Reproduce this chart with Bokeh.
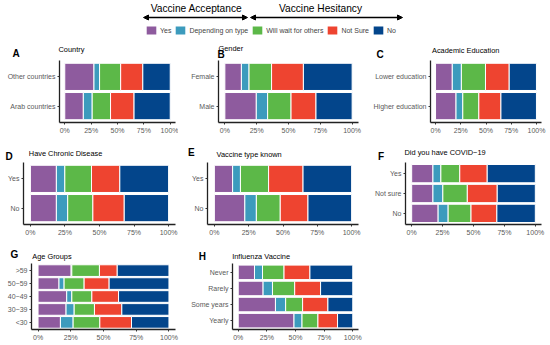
from bokeh.plotting import figure
from bokeh.models import (ColumnDataSource, FactorRange, Range1d, FixedTicker, PrintfTickFormatter,
                          Label, Arrow, NormalHead, Legend, LegendItem)
from bokeh.layouts import column, row
from bokeh.embed import file_html
from bokeh.resources import INLINE

# ---------------- data ----------------
responses = ["Yes", "Depending on type", "Will wait for others", "Not Sure", "No"]
colors = ["#8E5B9E", "#3C9BBD", "#5CB848", "#EE4430", "#03458B"]
x_ticks = [0, 25, 50, 75, 100]

# A  Country (bottom -> top)
country_groups = ["Arab countries", "Other countries"]
country_shares = [[17.6, 8.4, 17.4, 22.3, 34.3],
                  [27.7, 5.3, 20.0, 21.0, 26.0]]
# B  Gender
gender_groups = ["Male", "Female"]
gender_shares = [[24.7, 8.9, 18.4, 19.6, 28.4],
                 [13.0, 6.0, 17.7, 25.0, 38.3]]
# C  Academic Education
edu_groups = ["Higher education", "Lower education"]
edu_shares = [[20.3, 6.7, 15.9, 21.9, 35.2],
              [16.6, 9.0, 23.9, 23.5, 27.0]]
# D  Have Chronic Disease
chronic_groups = ["No", "Yes"]
chronic_shares = [[18.8, 8.2, 18.2, 22.7, 32.1],
                  [18.8, 6.1, 19.3, 20.5, 35.3]]
# E  Vaccine type known
known_groups = ["No", "Yes"]
known_shares = [[22.2, 8.4, 17.4, 20.2, 31.8],
                [13.3, 5.7, 20.5, 25.1, 35.4]]
# F  Did you have COVID-19
covid_groups = ["No", "Not sure", "Yes"]
covid_shares = [[21.4, 8.1, 18.5, 20.9, 31.1],
                [17.2, 8.0, 19.8, 24.2, 30.8],
                [17.2, 6.4, 15.3, 22.2, 38.9]]
# G  Age Groups
age_groups = ["<30", "30\u221239", "40\u221249", "50\u221259", ">59"]
age_shares = [[17.1, 9.7, 20.4, 24.2, 28.6],
              [21.4, 6.2, 15.5, 20.9, 36.0],
              [21.9, 3.9, 15.3, 20.4, 38.5],
              [16.0, 3.9, 15.3, 19.1, 45.7],
              [25.3, 0.5, 21.1, 13.6, 39.5]]
# H  Influenza Vaccine
flu_groups = ["Yearly", "Some years", "Rarely", "Never"]
flu_shares = [[48.7, 7.0, 13.9, 17.1, 13.3],
              [32.5, 8.9, 14.8, 22.1, 21.7],
              [21.7, 8.2, 19.4, 22.6, 28.1],
              [14.2, 7.0, 18.8, 22.6, 37.4]]

FONT = "Liberation Sans"
W = 550
keys = ["r%d" % i for i in range(len(responses))]


def strip(h):
    s = figure(width=W, height=h, x_range=Range1d(0, W), y_range=Range1d(0, h),
               min_border=0, x_axis_location=None, y_axis_location=None,
               outline_line_color=None, output_backend="svg", toolbar_location=None, title=None)
    s.grid.visible = False
    return s


def heading(s, top, letter, lpos, title, tpos):
    h = s.height
    ly = max(h - (lpos[1] - top) - 2.0, 0.6)
    s.add_layout(Label(x=lpos[0], y=ly, text=letter, text_font=FONT,
                       text_font_size="10px", text_font_style="bold",
                       text_baseline="bottom", text_align="left", text_color="black"))
    s.add_layout(Label(x=tpos[0], y=h - (tpos[1] - top), text=title, text_font=FONT,
                       text_font_size="7.4px", text_baseline="middle", text_align="left",
                       text_color="black"))


def panel(groups, shares, bl, fw, br, fh, bb, pad, bar_h):
    data = {"group": groups}
    for i, k in enumerate(keys):
        data[k] = [s[i] for s in shares]
    src = ColumnDataSource(data)
    p = figure(y_range=FactorRange(*groups, range_padding=pad, range_padding_units="absolute"),
               x_range=Range1d(-5, 105), frame_width=fw, frame_height=fh,
               min_border_left=bl, min_border_right=br, min_border_top=0, min_border_bottom=bb,
               output_backend="svg", toolbar_location=None, title=None,
               outline_line_color=None, background_fill_color="white")
    p.hbar_stack(keys, y="group", height=bar_h, fill_color=colors, line_color="white",
                 line_width=1, source=src)
    p.grid.visible = False
    for ax in (p.xaxis[0], p.yaxis[0]):
        ax.axis_line_color = "#222222"
        ax.axis_line_width = 1.3
        ax.major_tick_line_color = "#333333"
        ax.major_tick_out = 2
        ax.major_tick_in = 0
        ax.minor_tick_line_color = None
        ax.major_label_text_font = FONT
        ax.major_label_text_font_size = "7px"
        ax.major_label_text_color = "#5a5a5a"
        ax.major_label_standoff = 2
    p.xaxis[0].ticker = FixedTicker(ticks=x_ticks, minor_ticks=[])
    p.xaxis[0].formatter = PrintfTickFormatter(format="%d%%")
    return p


# ---------------- header + row-1 headings (0..60) ----------------
hdr = strip(60)
dummy = []
for c in colors:
    dummy.append(hdr.hbar(y=[0], left=[0], right=[0], height=0, fill_color=c, line_color=None))
leg = Legend(items=[LegendItem(label=lab, renderers=[r]) for lab, r in zip(responses, dummy)],
             orientation="horizontal", location=(145, 25),
             glyph_width=12, glyph_height=10, label_standoff=3, spacing=3,
             padding=0, margin=0, border_line_color=None, background_fill_alpha=0,
             label_text_font=FONT, label_text_font_size="7px", label_width=0, label_height=10,
             label_text_baseline="middle")
hdr.add_layout(leg)
for txt, x0, x1 in (("Vaccine Acceptance", 150, 242), ("Vaccine Hesitancy", 278, 362)):
    hdr.add_layout(Label(x=(x0 + x1) / 2, y=60 - 8, text=txt, text_font=FONT,
                         text_font_size="10.2px", text_align="center", text_baseline="middle",
                         text_color="black"))
for x0, x1 in ((143, 247), (250, 402)):
    hdr.add_layout(Arrow(start=NormalHead(size=5, fill_color="black", line_color="black"),
                         end=NormalHead(size=5, fill_color="black", line_color="black"),
                         x_start=x0, x_end=x1, y_start=60 - 17, y_end=60 - 17,
                         line_width=1.3, line_color="black"))
heading(hdr, 0, "A", (12, 56.7), "Country", (58, 48.8))
heading(hdr, 0, "B", (217, 59), "Gender", (218, 48.3))
heading(hdr, 0, "C", (376, 59), "Academic Education", (431.5, 50))

# ---------------- row 1 (60..136) ----------------
pA = panel(country_groups, country_shares, 59, 116, 3, 62, 14, 0.06, 0.93)
pB = panel(gender_groups, gender_shares, 40, 140, 6, 62, 14, 0.06, 0.93)
pC = panel(edu_groups, edu_shares, 66, 111, 9, 62, 14, 0.06, 0.93)

# ---------------- row-2 headings (136..162) ----------------
s2 = strip(26)
heading(s2, 136, "D", (5, 159), "Have Chronic Disease", (28.3, 152.8))
heading(s2, 136, "E", (187.5, 155.5), "Vaccine type known", (216, 153.8))
heading(s2, 136, "F", (377.5, 159), "Did you have COVID\u221219", (404, 152))

# ---------------- row 2 (162..240) ----------------
pD = panel(chronic_groups, chronic_shares, 23, 152, 5, 62, 16, 0.06, 0.93)
pE = panel(known_groups, known_shares, 27, 151, 6, 62, 16, 0.06, 0.93)
pF = panel(covid_groups, covid_shares, 41, 136, 9, 62, 16, 0.06, 0.92)

# ---------------- row-3 headings (240..263) ----------------
s3 = strip(23)
heading(s3, 240, "G", (10, 257.5), "Age Groups", (31.7, 255.5))
heading(s3, 240, "H", (198.3, 259), "Influenza Vaccine", (231.7, 255.5))

# ---------------- row 3 (263..345) ----------------
pG = panel(age_groups, age_shares, 31, 144, 5, 66, 16, 0.05, 0.9)
pH = panel(flu_groups, flu_shares, 52, 126, 7, 66, 16, 0.05, 0.9)

layout = column(hdr, row(pA, pB, pC), s2, row(pD, pE, pF), s3, row(pG, pH))
open("out.html", "w").write(file_html(layout, INLINE))
